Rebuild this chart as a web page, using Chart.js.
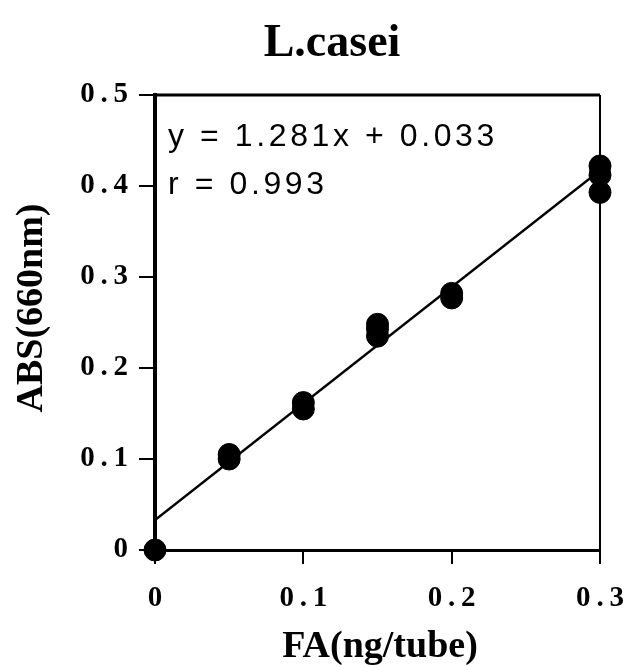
<!DOCTYPE html>
<html>
<head>
<meta charset="utf-8">
<script src="https://cdn.jsdelivr.net/npm/chart.js@4"></script>
<style>
	html, body { margin: 0; padding: 0; background: #fff; }
	#wrap { width: 627px; height: 665px; }
</style>
</head>
<body>
<div id="wrap"><canvas id="myChart"></canvas></div>
<script>
// measured points (FA ng/tube vs absorbance)
const faValues = [ 0, 0.05, 0.05, 0.1, 0.1, 0.15, 0.15, 0.15, 0.2, 0.2, 0.3, 0.3, 0.3 ];
const absValues = [ 0, 0.1, 0.105, 0.155, 0.162, 0.235, 0.243, 0.248, 0.277, 0.282, 0.393, 0.412, 0.422 ];

// regression line end points
const fitX = [ 0, 0.3 ];
const fitY = [ 0.033, 0.417 ];

const titleText = 'L.casei';
const xTitle = 'FA(ng/tube)';
const yTitle = 'ABS(660nm)';
const equationLines = [ 'y = 1.281x + 0.033', 'r = 0.993' ];

const xTicks = [ 0, 0.1, 0.2, 0.3 ];
const yTicks = [ 0, 0.1, 0.2, 0.3, 0.4, 0.5 ];

const serif = "'Liberation Serif', 'Times New Roman', serif";
const sans = "'Liberation Sans', Arial, sans-serif";

function spaced(v) {
	if (v === 0) return '0';
	return v.toFixed(1).split('').join('\u2009');
}

const boxAndText = {
	id: 'boxAndText',
	beforeDatasetsDraw(chart) {
		const ctx = chart.ctx;
		const a = chart.chartArea;
		ctx.save();
		ctx.strokeStyle = '#000';
		ctx.lineWidth = 3;
		ctx.beginPath();
		ctx.moveTo(a.left, a.top);
		ctx.lineTo(a.right, a.top);
		ctx.stroke();
		ctx.lineWidth = 2;
		ctx.beginPath();
		ctx.moveTo(a.right, a.top);
		ctx.lineTo(a.right, a.bottom);
		ctx.stroke();
		ctx.restore();
	},
	afterDraw(chart) {
		const ctx = chart.ctx;
		const a = chart.chartArea;
		ctx.save();
		ctx.fillStyle = '#000';

		// title
		ctx.font = 'bold 46px ' + serif;
		ctx.textAlign = 'center';
		ctx.textBaseline = 'alphabetic';
		ctx.fillText(titleText, 332, 56);

		// x axis title
		ctx.font = 'bold 38px ' + serif;
		ctx.fillText(xTitle, 380, 657);

		// y axis title
		ctx.save();
		ctx.translate(42, 308);
		ctx.rotate(-Math.PI / 2);
		ctx.fillText(yTitle, 0, 0);
		ctx.restore();

		// regression text
		ctx.font = '32px ' + sans;
		ctx.textAlign = 'left';
		ctx.letterSpacing = '3.6px';
		ctx.fillText(equationLines[0], a.left + 13, 146);
		ctx.fillText(equationLines[1], a.left + 13, 194);
		ctx.restore();
	}
};

const ctx1 = document.getElementById('myChart').getContext('2d');

const chart = new Chart(ctx1, {
	type: 'scatter',
	data: {
		datasets: [
			{
				label: 'points',
				data: faValues.map((x, i) => ({ x: x, y: absValues[i] })),
				backgroundColor: '#000',
				borderColor: '#000',
				pointRadius: 11,
				pointHoverRadius: 11,
				clip: false
			},
			{
				label: 'fit',
				type: 'line',
				data: fitX.map((x, i) => ({ x: x, y: fitY[i] })),
				borderColor: '#000',
				borderWidth: 2.5,
				pointRadius: 0,
				fill: false
			}
		]
	},
	options: {
		responsive: true,
		maintainAspectRatio: false,
		animation: false,
		layout: {
			padding: { left: 0, right: 27, top: 95, bottom: 0 }
		},
		plugins: {
			legend: { display: false },
			title: { display: false },
			tooltip: { enabled: false }
		},
		scales: {
			x: {
				type: 'linear',
				min: 0,
				max: 0.3,
				afterBuildTicks: (axis) => { axis.ticks = xTicks.map(v => ({ value: v })); },
				afterFit: (axis) => {
					axis.height = 115;
					axis.paddingLeft = 0;
					axis.paddingRight = 0;
				},
				ticks: {
					color: '#000',
					padding: 17,
					maxRotation: 0,
					font: { family: serif, size: 29, weight: 'bold' },
					callback: (v) => spaced(v)
				},
				grid: { drawOnChartArea: false, tickLength: 14, color: '#000', lineWidth: 2 },
				border: { color: '#000', width: 3 }
			},
			y: {
				min: 0,
				max: 0.5,
				afterBuildTicks: (axis) => { axis.ticks = yTicks.map(v => ({ value: v })); },
				afterFit: (axis) => {
					axis.width = 155;
					axis.paddingTop = 0;
					axis.paddingBottom = 0;
				},
				ticks: {
					color: '#000',
					padding: 11,
					font: { family: serif, size: 29, weight: 'bold' },
					callback: (v) => spaced(v)
				},
				grid: { drawOnChartArea: false, tickLength: 16, color: '#000', lineWidth: 2 },
				border: { color: '#000', width: 4 }
			}
		}
	},
	plugins: [ boxAndText ]
});
</script>
</body>
</html>
